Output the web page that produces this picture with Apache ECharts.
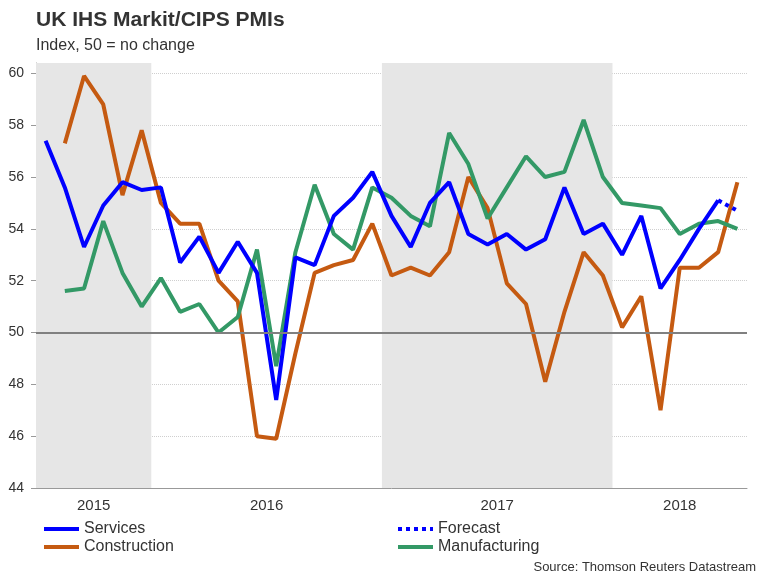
<!DOCTYPE html>
<html>
<head>
<meta charset="utf-8">
<script src="https://cdn.jsdelivr.net/npm/echarts@6/dist/echarts.min.js"></script>
<style>
  html, body { margin: 0; padding: 0; background: #fff; }
  #chart { width: 768px; height: 576px; }
</style>
</head>
<body>
<div id="chart"></div>
<script>
// months on the category axis
var months = [
  'Jul 2015', 'Aug 2015', 'Sep 2015', 'Oct 2015', 'Nov 2015', 'Dec 2015',
  'Jan 2016', 'Feb 2016', 'Mar 2016', 'Apr 2016', 'May 2016', 'Jun 2016',
  'Jul 2016', 'Aug 2016', 'Sep 2016', 'Oct 2016', 'Nov 2016', 'Dec 2016',
  'Jan 2017', 'Feb 2017', 'Mar 2017', 'Apr 2017', 'May 2017', 'Jun 2017',
  'Jul 2017', 'Aug 2017', 'Sep 2017', 'Oct 2017', 'Nov 2017', 'Dec 2017',
  'Jan 2018', 'Feb 2018', 'Mar 2018', 'Apr 2018', 'May 2018', 'Jun 2018',
  'Jul 2018'
];

var services = [
  57.4, 55.6, 53.3, 54.9, 55.8, 55.5,
  55.6, 52.7, 53.7, 52.3, 53.5, 52.3,
  47.4, 52.9, 52.6, 54.5, 55.2, 56.2,
  54.5, 53.3, 55.0, 55.8, 53.8, 53.4,
  53.8, 53.2, 53.6, 55.6, 53.8, 54.2,
  53.0, 54.5, 51.7, 52.8, 54.0, 55.1,
  null
];

// forecast only joins the last actual services reading
var forecast = [
  null, null, null, null, null, null,
  null, null, null, null, null, null,
  null, null, null, null, null, null,
  null, null, null, null, null, null,
  null, null, null, null, null, null,
  null, null, null, null, null, 55.1,
  54.7
];

var construction = [
  null, 57.3, 59.9, 58.8, 55.3, 57.8,
  55.0, 54.2, 54.2, 52.0, 51.2, 46.0,
  45.9, 49.2, 52.3, 52.6, 52.8, 54.2,
  52.2, 52.5, 52.2, 53.1, 56.0, 54.8,
  51.9, 51.1, 48.1, 50.8, 53.1, 52.2,
  50.2, 51.4, 47.0, 52.5, 52.5, 53.1,
  55.8
];

var manufacturing = [
  null, 51.6, 51.7, 54.3, 52.3, 51.0,
  52.1, 50.8, 51.1, 50.0, 50.6, 53.2,
  48.7, 53.1, 55.7, 53.8, 53.2, 55.6,
  55.2, 54.5, 54.1, 57.7, 56.5, 54.4,
  55.6, 56.8, 56.0, 56.2, 58.2, 56.0,
  55.0, 54.9, 54.8, 53.8, 54.2, 54.3,
  54.0
];

var years = ['2015', '2016', '2017', '2018'];
var shadedYears = ['2015', '2017'];
var yTicks = [44, 46, 48, 50, 52, 54, 56, 58, 60];

var fontFamily = 'Liberation Sans, Arial, sans-serif';
var textColor = '#333';

// first/last month index of each year, in month units of the value axis
function yearSpan(year) {
  var first = -1, last = -1;
  months.forEach(function (m, i) {
    if (m.slice(4) === year) {
      if (first < 0) first = i;
      last = i;
    }
  });
  return [first, last + 1];
}

var yearLabelAt = {};
years.forEach(function (y) {
  var s = yearSpan(y);
  yearLabelAt[(s[0] + s[1]) / 2] = y;
});

var shadeAreas = shadedYears.map(function (y) {
  var s = yearSpan(y);
  return [{ xAxis: s[0] }, { xAxis: s[1] }];
});

var myChart = echarts.init(document.getElementById('chart'));

var legendBase = {
  orient: 'vertical', top: 516,
  itemWidth: 35, itemHeight: 14, itemGap: 2,
  itemStyle: { opacity: 0 },
  lineStyle: { width: 4 },
  textStyle: { fontSize: 16, color: textColor }
};

var option = {
  animation: false,
  textStyle: { fontFamily: fontFamily },
  title: [
    {
      text: 'UK IHS Markit/CIPS PMIs',
      left: 31, top: 5,
      textStyle: { fontSize: 21, fontWeight: 'bold', color: textColor, fontFamily: fontFamily }
    },
    {
      text: 'Index, 50 = no change',
      left: 31, top: 33,
      textStyle: { fontSize: 16, fontWeight: 'normal', color: textColor, fontFamily: fontFamily }
    },
    {
      text: 'Source: Thomson Reuters Datastream',
      right: 7, bottom: -3,
      textStyle: { fontSize: 13, fontWeight: 'normal', color: textColor, fontFamily: fontFamily }
    }
  ],
  legend: [
    Object.assign({}, legendBase, { left: 37, data: ['Services', 'Construction'] }),
    Object.assign({}, legendBase, { left: 391, data: ['Forecast', 'Manufacturing'] })
  ],
  grid: { left: 36, right: 21, top: 63, bottom: 88 },
  xAxis: [
    {
      type: 'category',
      data: months,
      boundaryGap: true,
      axisLine: { onZero: false, lineStyle: { color: '#999', width: 1 } },
      axisTick: {
        length: 5,
        lineStyle: { color: '#999' },
        interval: function (index, value) { return value.slice(0, 3) === 'Jan'; }
      },
      axisLabel: { show: false },
      splitLine: { show: false }
    },
    {
      // month-unit axis used for the year labels and shaded years
      type: 'value',
      position: 'bottom',
      min: 0, max: months.length, interval: 0.5,
      axisLine: { show: false, onZero: false },
      axisTick: { show: false },
      splitLine: { show: false },
      axisLabel: {
        margin: 10,
        fontSize: 15,
        color: textColor,
        formatter: function (v) { return yearLabelAt[v] || ''; }
      }
    }
  ],
  yAxis: {
    type: 'value',
    min: yTicks[0], max: 60.4, interval: 2,
    axisLine: { show: true, lineStyle: { color: '#999', width: 1 } },
    axisTick: { show: true, length: 5, lineStyle: { color: '#999' } },
    axisLabel: { fontSize: 14, color: textColor, margin: 12, showMaxLabel: false },
    splitLine: {
      show: true, showMaxLine: false,
      lineStyle: { color: '#cfcfcf', type: 'dotted', width: 1 }
    }
  },
  series: [
    {
      name: 'shade',
      type: 'line',
      xAxisIndex: 1,
      data: [],
      silent: true,
      markArea: {
        silent: true,
        itemStyle: { color: '#e6e6e6' },
        data: shadeAreas
      }
    },
    {
      name: 'Services',
      type: 'line',
      data: services,
      symbol: 'none',
      color: '#0000ff',
      lineStyle: { color: '#0000ff', width: 4 },
      z: 4,
      markLine: {
        silent: true,
        symbol: 'none',
        label: { show: false },
        lineStyle: { color: '#808080', width: 2, type: 'solid' },
        data: [{ yAxis: 50 }]
      }
    },
    {
      name: 'Forecast',
      type: 'line',
      data: forecast,
      symbol: 'none',
      color: '#0000ff',
      lineStyle: { color: '#0000ff', width: 4, type: [4, 4] },
      z: 4
    },
    {
      name: 'Construction',
      type: 'line',
      data: construction,
      symbol: 'none',
      color: '#c55a11',
      lineStyle: { color: '#c55a11', width: 4 },
      z: 3
    },
    {
      name: 'Manufacturing',
      type: 'line',
      data: manufacturing,
      symbol: 'none',
      color: '#339966',
      lineStyle: { color: '#339966', width: 4 },
      z: 3
    }
  ]
};

myChart.setOption(option);
</script>
</body>
</html>
